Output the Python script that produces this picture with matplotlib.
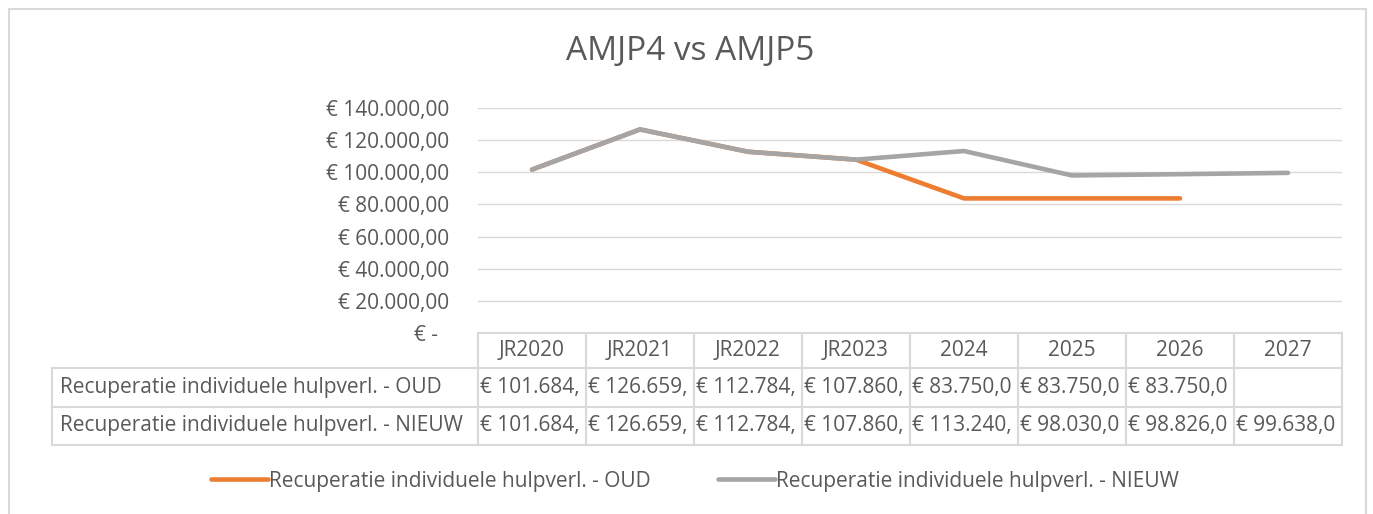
import numpy as np
import matplotlib.pyplot as plt
from matplotlib.lines import Line2D
from matplotlib.patches import Rectangle
from matplotlib.ticker import FuncFormatter, MultipleLocator

plt.rcParams['font.family'] = ['Open Sans', 'DejaVu Sans']

# data
jaren = ['JR2020', 'JR2021', 'JR2022', 'JR2023', '2024', '2025', '2026', '2027']
oud = [101684, 126659, 112784, 107860, 83750, 83750, 83750, np.nan]
nieuw = [101684, 126659, 112784, 107860, 113240, 98030, 98826, 99638]
naam_oud = 'Recuperatie individuele hulpverl. - OUD'
naam_nieuw = 'Recuperatie individuele hulpverl. - NIEUW'

W, H = 1373, 514
TXT = '#595959'
GRID = '#D9D9D9'
ORANJE = '#ED7D31'
GRIJS = '#A5A5A5'
FS = 15


def fx(x):
    return x / W


def fy(y):
    return 1 - y / H


def euro(v):
    s = f"{v:,.2f}".replace(',', 'X').replace('.', ',').replace('X', '.')
    return '€ ' + s


fig = plt.figure(figsize=(W / 100, H / 100), dpi=100)

# kader rond de grafiek
fig.add_artist(Rectangle((fx(9), fy(530)), fx(1366 - 9), (530 - 9) / H,
                         transform=fig.transFigure, fill=False,
                         edgecolor=GRID, linewidth=1.5))

# plot gebied
ax = fig.add_axes([fx(478), fy(333), fx(1342 - 478), (333 - 108) / H])
x = np.arange(len(jaren))
ax.plot(x, oud, color=ORANJE, lw=3.3, solid_capstyle='round', solid_joinstyle='round', label=naam_oud)
ax.plot(x, nieuw, color=GRIJS, lw=3.3, solid_capstyle='round', solid_joinstyle='round', label=naam_nieuw)
ax.set_xlim(-0.5, len(jaren) - 0.5)
ax.set_ylim(0, 140000)
ax.yaxis.set_major_locator(MultipleLocator(20000))
ax.yaxis.set_major_formatter(FuncFormatter(lambda v, p: '€ -  ' if v == 0 else euro(v)))
ax.grid(axis='y', color=GRID, lw=1.0)
ax.set_axisbelow(True)
ax.set_xticks([])
ax.tick_params(axis='y', length=0, pad=21, labelsize=FS, labelcolor=TXT)
for s in ax.spines.values():
    s.set_visible(False)

fig.text(fx(690), fy(52), 'AMJP4 vs AMJP5', ha='center', va='center', fontsize=24, color=TXT)

# gegevenstabel
kol_l = 478
kol_b = 108
rij_y = [333, 368, 407, 445]
lijnen = []
for i in range(len(jaren) + 1):
    xx = kol_l + i * kol_b
    lijnen.append(([xx, xx], [rij_y[0], rij_y[3]]))
lijnen.append(([52, 52], [rij_y[1], rij_y[3]]))
lijnen.append(([kol_l, kol_l + len(jaren) * kol_b], [rij_y[0], rij_y[0]]))
for yy in rij_y[1:]:
    lijnen.append(([52, kol_l + len(jaren) * kol_b], [yy, yy]))
for xs, ys in lijnen:
    fig.add_artist(Line2D([fx(v) for v in xs], [fy(v) for v in ys],
                          transform=fig.transFigure, color=GRID, lw=1.5))

for i, j in enumerate(jaren):
    fig.text(fx(kol_l + i * kol_b + kol_b / 2), fy(351), j, ha='center', va='center',
             fontsize=FS, color=TXT)

for r, (naam, reeks) in enumerate([(naam_oud, oud), (naam_nieuw, nieuw)]):
    yc = (rij_y[r + 1] + rij_y[r + 2]) / 2
    fig.text(fx(60), fy(yc), naam, ha='left', va='center', fontsize=FS, color=TXT)
    for i, v in enumerate(reeks):
        if np.isnan(v):
            continue
        fig.text(fx(kol_l + i * kol_b + 2), fy(yc), euro(v)[:10], ha='left', va='center',
                 fontsize=FS, color=TXT)

# legenda
h, l = ax.get_legend_handles_labels()
fig.legend(h, l, loc='center', bbox_to_anchor=(fx(695), fy(481)), ncol=2, frameon=False,
           handlelength=2.75, handletextpad=0.05, columnspacing=3.2, fontsize=FS,
           labelcolor=TXT)

fig.savefig('out.png', dpi=100, facecolor='white')
